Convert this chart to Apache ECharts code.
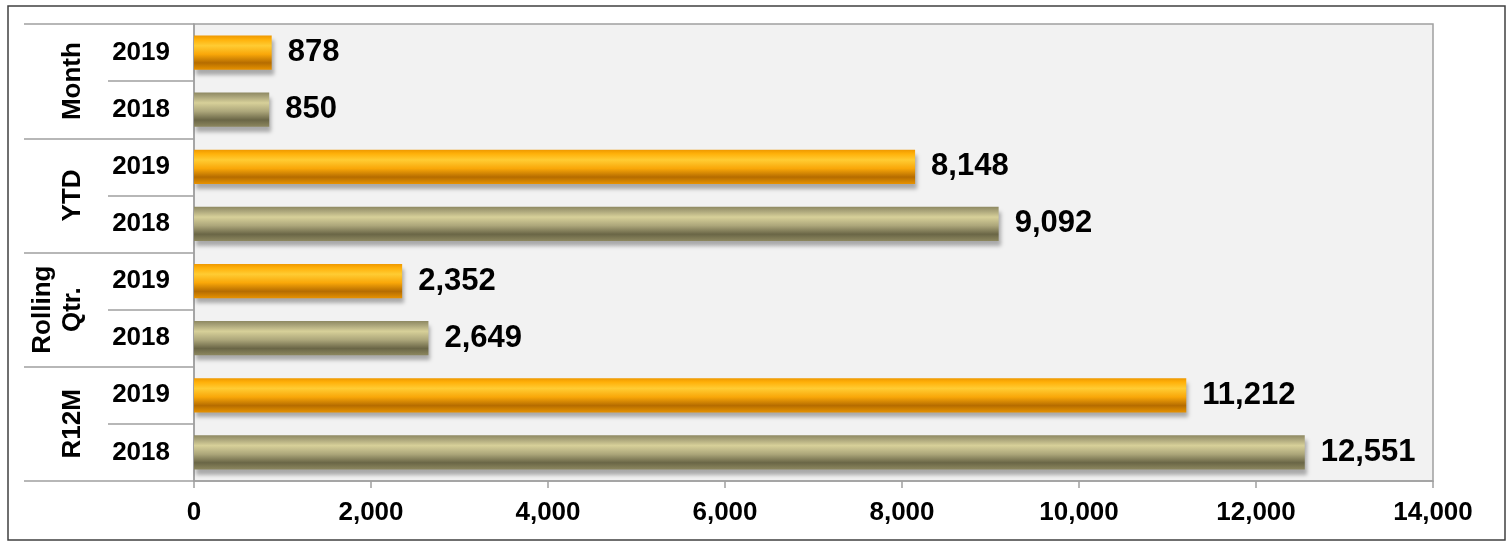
<!DOCTYPE html>
<html>
<head>
<meta charset="utf-8">
<script src="https://cdn.jsdelivr.net/npm/echarts@6/dist/echarts.min.js"></script>
<style>
html,body{margin:0;padding:0;background:#fff;}
#chart{width:1512px;height:545px;}
</style>
</head>
<body>
<div id="chart"></div>
<script>
// Data (top to bottom)
const groups = ['Month', 'YTD', 'Rolling\nQtr.', 'R12M'];
const years = ['2019', '2018', '2019', '2018', '2019', '2018', '2019', '2018'];
const values = [878, 850, 8148, 9092, 2352, 2649, 11212, 12551];
const xTicks = { min: 0, max: 14000, interval: 2000 };

const FONT = '"Liberation Sans", Arial, sans-serif';
const fmt = v => Number(v).toLocaleString('en-US');

const orangeGrad = new echarts.graphic.LinearGradient(0, 0, 0, 1, [
  { offset: 0, color: '#ee9800' },
  { offset: 0.12, color: '#ffb10a' },
  { offset: 0.3, color: '#ffcc33' },
  { offset: 0.55, color: '#f9a709' },
  { offset: 0.8, color: '#b56c00' },
  { offset: 0.92, color: '#d28300' },
  { offset: 1, color: '#e89200' }
]);
const oliveGrad = new echarts.graphic.LinearGradient(0, 0, 0, 1, [
  { offset: 0, color: '#8e8962' },
  { offset: 0.12, color: '#aaa47a' },
  { offset: 0.3, color: '#d7d099' },
  { offset: 0.55, color: '#aca67a' },
  { offset: 0.8, color: '#6a6646' },
  { offset: 0.92, color: '#7f7a55' },
  { offset: 1, color: '#8d8860' }
]);

const chart = echarts.init(document.getElementById('chart'));
chart.setOption({
  animation: false,
  backgroundColor: '#ffffff',
  graphic: [{
    type: 'rect',
    shape: { x: 8, y: 6, width: 1497, height: 534 },
    style: { fill: 'none', stroke: '#404040', lineWidth: 1.5 },
    silent: true
  }],
  grid: {
    left: 194, right: 79, top: 24, bottom: 64,
    show: true, backgroundColor: '#f2f2f2', borderColor: '#a0a0a0', borderWidth: 1.5
  },
  xAxis: {
    type: 'value',
    min: xTicks.min, max: xTicks.max, interval: xTicks.interval,
    axisLine: { show: true, lineStyle: { color: '#a0a0a0', width: 1.5 } },
    axisTick: { show: true, length: 7, lineStyle: { color: '#a0a0a0', width: 1.5 } },
    splitLine: { show: false },
    axisLabel: {
      formatter: fmt, fontSize: 26, fontWeight: 'bold', color: '#000',
      fontFamily: FONT, margin: 19
    }
  },
  yAxis: [{
    type: 'category',
    inverse: true,
    data: years,
    axisLine: { show: true, lineStyle: { color: '#a0a0a0', width: 1.5 } },
    axisTick: { show: true, interval: 0, length: 86, lineStyle: { color: '#a0a0a0', width: 1.5 } },
    axisLabel: { interval: 0, fontSize: 26, fontWeight: 'bold', color: '#000', fontFamily: FONT, margin: 24 }
  }, {
    type: 'category',
    inverse: true,
    position: 'left',
    offset: 86,
    data: groups,
    axisLine: { show: false },
    axisTick: { show: true, interval: 0, length: 84, lineStyle: { color: '#a0a0a0', width: 1.5 } },
    axisLabel: {
      interval: 0, rotate: 90, fontSize: 26, fontWeight: 'bold', color: '#000',
      fontFamily: FONT, margin: 20, lineHeight: 30
    }
  }],
  series: [{
    type: 'bar',
    yAxisIndex: 0,
    barWidth: '60%',
    data: values.map((v, i) => ({
      value: v,
      itemStyle: {
        color: years[i] === '2019' ? orangeGrad : oliveGrad,
        shadowColor: 'rgba(0,0,0,0.3)', shadowBlur: 4, shadowOffsetY: 5, shadowOffsetX: 2
      }
    })),
    label: {
      show: true, position: 'right', distance: 16,
      formatter: p => fmt(p.value),
      fontSize: 31, fontWeight: 'bold', color: '#000', fontFamily: FONT
    }
  }]
});
</script>
</body>
</html>
